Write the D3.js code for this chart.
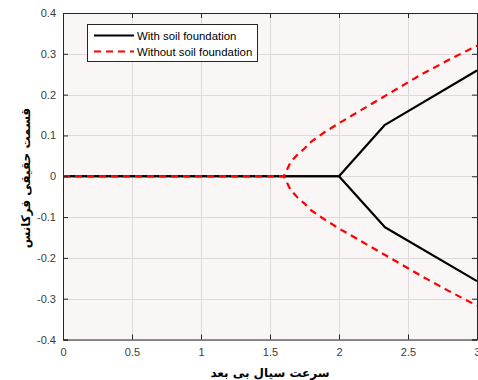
<!DOCTYPE html>
<html>
<head>
<meta charset="utf-8">
<script src="https://cdn.jsdelivr.net/npm/d3@7"></script>
<style>
  html, body { margin: 0; padding: 0; background: #ffffff; }
  svg { display: block; }
</style>
</head>
<body>
<svg id="chart" width="478" height="380"></svg>
<script>
// Dimensionless flow velocity samples and the real part of the frequency
const withSoilX = [0, 2.0, 2.333, 3.0];
const withSoilUpper = [0, 0, 0.126, 0.259];
const withSoilLower = [0, 0, -0.125, -0.257];

const withoutSoilX = [0, 1.6, 1.65, 1.7, 1.75, 1.8, 1.9, 2.0, 2.2, 2.4, 2.6, 2.8, 3.0];
const withoutSoilUpper = [0, 0, 0.035, 0.053, 0.068, 0.085, 0.109, 0.13, 0.17, 0.21, 0.25, 0.286, 0.32];
const withoutSoilLower = [0, 0, -0.034, -0.052, -0.067, -0.084, -0.107, -0.128, -0.167, -0.206, -0.245, -0.282, -0.317];

const xTicks = [0, 0.5, 1, 1.5, 2, 2.5, 3];
const yTicks = [0.4, 0.3, 0.2, 0.1, 0, -0.1, -0.2, -0.3, -0.4];

const legendLabels = ["With soil foundation", "Without soil foundation"];
const xTitle = "سرعت سیال بی بعد";
const yTitle = "قسمت حقیقی فرکانس";

const svg = d3.select("#chart");
const plot = { left: 63, right: 477, top: 13, bottom: 339.5 };

const x = d3.scaleLinear().domain([0, 3]).range([plot.left, plot.right]);
const y = d3.scaleLinear().domain([-0.4, 0.4]).range([plot.bottom, plot.top]);

const axisColor = "#262626";
const tickTextColor = "#3a3a3a";
const fontFamily = "'Liberation Sans', Arial, Helvetica, sans-serif";

// plot background
svg.append("rect")
  .attr("x", plot.left).attr("y", plot.top)
  .attr("width", plot.right - plot.left).attr("height", plot.bottom - plot.top)
  .attr("fill", "#f9f6f5");

// grid
const grid = svg.append("g").attr("stroke", "#dedada").attr("stroke-width", 1);
grid.selectAll("line.gx").data(xTicks).join("line")
  .attr("x1", d => Math.round(x(d)) + 0.5).attr("x2", d => Math.round(x(d)) + 0.5)
  .attr("y1", plot.top).attr("y2", plot.bottom);
grid.selectAll("line.gy").data(yTicks).join("line")
  .attr("y1", d => Math.round(y(d)) + 0.5).attr("y2", d => Math.round(y(d)) + 0.5)
  .attr("x1", plot.left).attr("x2", plot.right);

// curves
const line = d3.line().x(d => x(d[0])).y(d => y(d[1]));
const zip = (xs, ys) => xs.map((v, i) => [v, ys[i]]);

const curves = svg.append("g").attr("fill", "none").attr("stroke-linejoin", "round");
[withSoilUpper, withSoilLower].forEach(ys => {
  curves.append("path")
    .attr("d", line(zip(withSoilX, ys)))
    .attr("stroke", "#000000").attr("stroke-width", 2.2);
});
[withoutSoilUpper, withoutSoilLower].forEach(ys => {
  curves.append("path")
    .attr("d", line(zip(withoutSoilX, ys)))
    .attr("stroke", "#ff0000").attr("stroke-width", 2.2)
    .attr("stroke-dasharray", "7,5");
});

// axes with inward ticks on all four sides
const tickLen = 5;
const fmt = d => d3.format("")(d).replace("\u2212", "-");

const axB = svg.append("g").attr("transform", `translate(0,${plot.bottom})`)
  .call(d3.axisBottom(x).tickValues(xTicks).tickSize(-tickLen).tickPadding(9).tickFormat(fmt));
const axT = svg.append("g").attr("transform", `translate(0,${plot.top})`)
  .call(d3.axisTop(x).tickValues(xTicks).tickSize(-tickLen).tickFormat(""));
const axL = svg.append("g").attr("transform", `translate(${plot.left},0)`)
  .call(d3.axisLeft(y).tickValues(yTicks).tickSize(-tickLen).tickPadding(7).tickFormat(fmt));
const axR = svg.append("g").attr("transform", `translate(${plot.right},0)`)
  .call(d3.axisRight(y).tickValues(yTicks).tickSize(-tickLen).tickFormat(""));

[axB, axT, axL, axR].forEach(a => {
  a.select(".domain").attr("stroke", axisColor).attr("stroke-width", 1);
  a.selectAll(".tick line").attr("stroke", axisColor);
  a.selectAll(".tick text")
    .attr("fill", tickTextColor)
    .style("font-family", fontFamily)
    .style("font-size", "11px");
});

// legend
const legend = svg.append("g");
legend.append("rect")
  .attr("x", 87.5).attr("y", 24.5).attr("width", 170).attr("height", 37)
  .attr("fill", "#ffffff").attr("stroke", axisColor).attr("stroke-width", 1);
const legendStyles = [
  { stroke: "#000000", dash: null },
  { stroke: "#ff0000", dash: "7,5" }
];
legendLabels.forEach((label, i) => {
  const ly = 35.5 + i * 16;
  legend.append("line")
    .attr("x1", 94).attr("x2", 134).attr("y1", ly).attr("y2", ly)
    .attr("stroke", legendStyles[i].stroke).attr("stroke-width", 2.2)
    .attr("stroke-dasharray", legendStyles[i].dash);
  legend.append("text")
    .attr("x", 137).attr("y", ly + 4)
    .attr("fill", "#000000")
    .style("font-family", fontFamily)
    .style("font-size", "11.4px")
    .text(label);
});

// axis titles
svg.append("text")
  .attr("x", 270).attr("y", 377)
  .attr("text-anchor", "middle")
  .attr("direction", "rtl")
  .attr("fill", "#000000")
  .style("font-family", "'DejaVu Sans', sans-serif")
  .style("font-weight", "bold")
  .style("font-size", "12px")
  .text(xTitle);

svg.append("text")
  .attr("transform", `translate(30,178) rotate(-90)`)
  .attr("text-anchor", "middle")
  .attr("direction", "rtl")
  .attr("fill", "#000000")
  .style("font-family", "'DejaVu Sans', sans-serif")
  .style("font-weight", "bold")
  .style("font-size", "12px")
  .text(yTitle);
</script>
</body>
</html>
